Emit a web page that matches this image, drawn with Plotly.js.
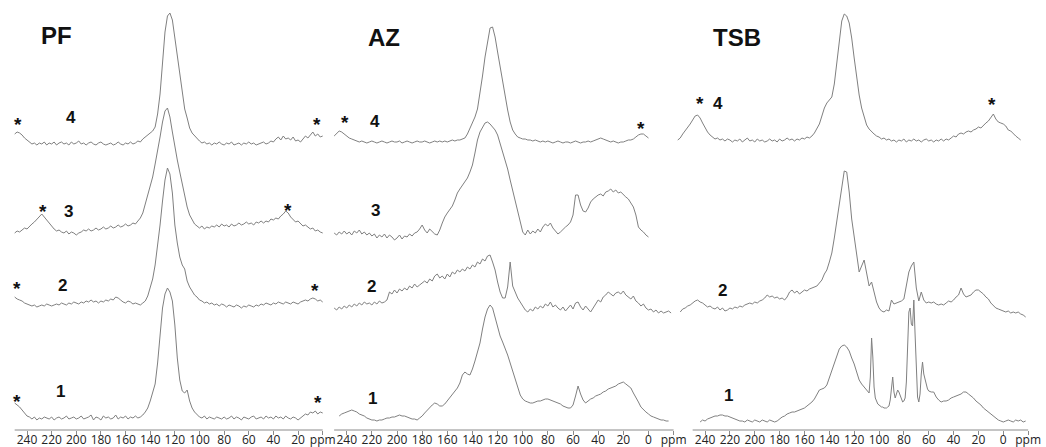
<!DOCTYPE html>
<html><head><meta charset="utf-8">
<script src="https://cdn.plot.ly/plotly-3.0.1.min.js"></script>
<style>html,body{margin:0;padding:0;background:#fff;}#chart{width:1046px;height:447px;}</style>
</head><body><div id="chart"></div>
<script>
// ---------------- DATA (intensity, ppm grids) ----------------
const panelTitles = ['PF', 'AZ', 'TSB'];

// PF spectra: 250 -> 0 ppm, step 2
const pf4 = [10,12,11,9,6,4,2,0,1,-1, 1,0,2,-1,1,0,2,-1,1,2, 0,1,-1,2,0,1,3,0,1,-1, 1,2,0,-1,1,2,0,-1,0,1,
  -1,0,2,0,-1,1,0,2,0,1, 3,2,5,7,9,11,13,17,30,50, 85,112,128,131,124,106,88,66,48,35, 26,16,11,8,5,3,1,2,0,1,
  -1,1,0,2,0,-1,1,0,2,-1, 0,1,-1,1,0,2,0,1,-1,0, 1,2,0,1,3,2,5,7,4,8, 5,6,4,7,3,4,2,5,8,6, 9,12,8,10,7,8];
const pf3 = [-1,1,0,2,4,3,6,8,10,13, 15,18,15,12,8,5,3,1,2,0, -1,1,-2,0,-1,-3,-1,0,2,1, 3,1,2,4,2,3,5,3,4,6,
  4,5,7,5,6,8,6,7,9,8, 11,14,19,28,37,45,55,68,80,95, 110,121,124,115,100,84,72,60,48,36, 25,17,12,8,6,4,6,3,5,4,
  6,5,7,5,8,6,7,5,8,6, 7,9,7,8,10,8,9,7,10,9, 11,9,11,10,13,12,14,13,16,18, 21,19,15,12,10,11,8,6,7,5, 3,4,1,2,0,-1];
const pf2 = [8,6,5,4,2,1,0,-1,0,-2, -1,0,-1,1,0,-1,0,1,0,2, 1,0,2,1,3,2,1,3,2,4, 3,5,3,4,2,4,3,5,4,6,
  5,8,7,5,3,2,4,3,1,2, 1,0,2,4,9,18,26,40,58,80, 104,125,137,131,112,80,62,48,40,36, 24,18,14,10,8,5,4,2,3,1,
  2,0,1,-1,1,0,-2,0,-1,-2, 0,-1,-3,-1,-2,0,-1,-2,0,-1, 1,0,2,1,0,2,1,3,2,1, 3,2,1,3,2,1,3,4,5,4, 6,7,6,4,5,3];
const pf1 = [15,13,11,8,5,2,1,-1,1,-2, 0,-1,1,0,-1,1,-2,0,1,-1, 0,2,-1,0,1,-1,0,2,-1,0, 1,3,-2,1,0,-2,2,0,1,-1,
  0,3,-1,1,0,2,-1,1,0,2, 0,1,3,6,10,17,25,34,55,85, 110,124,130,126,117,93,60,38,27,25, 28,17,10,6,3,1,0,2,-1,1,
  0,-1,1,0,-1,1,-1,0,2,-1, 1,0,-2,1,0,-1,1,2,-1,0, 1,-1,2,0,1,-1,2,0,1,-1, 2,0,-1,1,0,-2,0,2,4,3, 6,5,7,4,6,5];

// AZ spectra
const az4 = [6,9,11,10,8,6,4,3,2,1, 0,1,0,-1,0,1,0,-1,0,1, 0,-1,0,1,0,0,1,-1,0,1, 0,-1,0,1,0,0,1,0,-1,0,
  1,0,1,0,1,0,1,2,1,2, 2,3,4,8,14,19,25,33,48,66, 85,102,114,115,105,90,75,60,45,32, 20,12,8,5,4,3,3,2,2,1,
  2,1,0,1,0,1,0,-1,0,1, 0,-1,0,0,-1,0,1,0,-1,0, 0,1,0,1,2,3,4,3,2,1, 0,1,0,-1,0,0,1,2,2,3, 5,7,8,8,6,4]; // 250 -> 0
const az3 = [2,0,3,1,4,1,3,0,4,2, 5,1,3,0,2,-1,1,-3,0,-2, 1,-3,0,-2,-5,-3,0,-4,-1,-2, 1,-1,2,3,6,10,5,2,6,3,
  1,0,5,12,18,22,25,29,35,42, 46,50,53,57,63,70,82,95,103,108, 112,113,111,108,105,100,92,83,74,66, 55,45,33,24,14,3,0,5,1,4,
  2,6,3,8,11,9,12,7,4,1, 3,6,8,10,13,20,40,40,30,24, 23,27,33,36,38,40,41,39,43,44, 46,43,45,42,43,40,38,36,32,28, 20,8,5,3,0,-2]; // 250 -> 0
const az2 = [4,2,5,3,6,4,7,5,8,6, 9,7,10,8,9,7,10,8,11,9, 10,12,20,18,22,19,23,21,24,22, 26,24,28,25,27,29,31,29,33,31,
  36,38,34,36,33,38,35,40,38,42, 40,43,41,45,43,47,45,50,48,53, 51,56,57,50,42,30,20,14,14,25, 50,26,20,14,10,6,2,0,3,1,
  5,3,6,4,8,6,10,5,7,4, 2,5,1,4,7,3,9,10,5,2, 6,3,0,4,8,12,10,15,17,20, 18,16,19,20,18,21,17,15,13,16, 11,9,6,8,4,2,3,0,2,-1,
  1,-1,0,1,-1]; // 250 -> -18
const az1 = [5,7,8,9,10,11,10,9,7,6, 5,3,2,1,1,0,1,1,2,3, 3,4,4,5,6,5,5,4,3,2, 2,1,3,5,8,11,14,16,18,17,
  15,15,17,20,24,27,30,33,38,46, 49,47,46,52,60,68,78,92,104,112, 116,113,104,94,85,79,73,66,58,50, 41,32,26,22,20,19,18,18,19,20,
  20,21,22,22,21,20,19,18,17,15, 14,13,13,16,25,35,27,21,18,20, 22,23,25,26,27,29,30,32,33,34, 35,37,38,39,37,35,33,28,24,19,
  14,11,9,7,5,4,3,2,1,1, 0,0]; // 246 -> -16

// TSB spectra
const tsb4 = [2,4,8,11,15,18,22,26,27,24, 19,14,10,7,5,3,4,2,3,1, 3,2,0,2,1,3,0,2,4,1, 2,0,3,1,2,0,1,3,1,2,
  0,3,1,2,4,2,3,1,3,2, 4,3,5,4,6,9,13,18,26,34, 39,42,45,58,80,104,121,128,126,119, 104,84,64,47,34,24,17,13,10,8,
  6,5,3,4,2,3,1,2,0,2, 1,3,0,2,1,3,1,2,0,2, 3,1,2,0,2,1,3,1,3,2, 4,6,5,8,9,8,10,11,10,12, 13,15,14,17,19,21,24,28,23,20,
  19,18,16,12,11,8,6,4,2]; // 262 -> -14
const tsb2 = [2,5,6,8,9,11,13,14,12,11, 9,7,8,6,5,7,4,6,3,4, 6,5,7,6,8,7,9,10,11,10, 12,11,13,14,16,19,17,18,16,17,
  15,16,14,17,22,24,21,23,20,22, 24,23,25,26,27,28,31,34,40,44, 52,61,76,92,108,128,143,142,122,95, 78,60,42,48,54,41,28,32,22,12,
  6,3,2,4,3,14,10,11,12,13, 15,28,42,48,52,26,13,22,14,11, 12,11,12,10,9,10,9,11,13,12, 14,17,19,26,20,17,18,19,22,24,
  24,22,20,17,15,11,8,6,5,4, 3,2,3,1,2,1,2,0,-1,-3]; // 260 -> -18
const tsb1Ppm = [244,242,240,238,236,234,232,230,228,226,224,222,220,218,216,214,212,210,208,206,204,202,200,198,196,194,192,190,188,186,
  184,182,180,178,176,174,172,170,168,166,164,162,160,158,156,154,152,150,148,146,144,142,140,138,136,134,132,130,128,126,
  124,122,120,118,116,114,112,
  111,110,109,108,107,106,105,104,103,102,101,100,99,98,97,96,95,94,93,92,91,90,89,88,87,86,85,84,83,82,
  81,80,79,78,77,76,75,74,73,72,71,70,69,68,67,66,65,64,63,62,61,60,
  58,56,54,52,50,48,46,44,42,40,38,36,34,32,30,28,26,24,22,20,18,16,14,12,10,8,6,4,2,0,-2,-4,-6,-8,-10,-12,-14,-16,-18];
const tsb1 = [0,2,1,3,4,5,6,6,7,7, 6,6,5,4,3,2,1,1,0,2, 1,0,2,1,0,2,1,0,2,1, 0,1,3,5,6,8,9,10,10,11,
  12,13,14,16,18,20,23,28,32,33, 34,37,44,50,58,66,73,76,77,75, 71,64,58,50,42,38,35,
  33,31,30,29,45,84,65,35,24,20, 18,17,16,15,15,14,14,14,15,16, 22,36,45,30,24,28,32,30,26,22,
  20,21,24,40,75,110,114,98,96,122, 88,45,25,20,28,48,60,48,42,36, 33,31,
  30,30,25,22,20,21,21,22,24,25, 26,27,28,30,30,28,26,24,21,19, 17,14,12,10,8,6,4,2,1,0, 1,2,1,0,2,1,2,0,1];

const tickValsPF = [240,220,200,180,160,140,120,100,80,60,40,20,0];
const tickTextPF = ['240','220','200','180','160','140','120','100','80','60','40','20','ppm'];
const tickValsWide = [240,220,200,180,160,140,120,100,80,60,40,20,0,-20];
const tickTextWide = ['240','220','200','180','160','140','120','100','80','60','40','20','0','ppm'];

// ---------------- STYLE / LAYOUT ----------------
const W = 1046, H = 447, PH = 430;
const lineColor = '#808080';
function trace(yArr, start, offset, xa, ya, xArr) {
  const t = {type:'scatter', mode:'lines', xaxis:xa, yaxis:ya, hoverinfo:'skip',
    y: yArr.map(v => v + offset), line:{color:lineColor, width:1}, showlegend:false};
  if (xArr) t.x = xArr; else { t.x0 = start; t.dx = -2; }
  return t;
}
const data = [
  trace(pf4, 250, 286, 'x', 'y'), trace(pf3, 250, 198, 'x', 'y'), trace(pf2, 250, 125, 'x', 'y'), trace(pf1, 250, 12, 'x', 'y'),
  trace(az4, 250, 288, 'x2', 'y2'), trace(az3, 250, 195, 'x2', 'y2'), trace(az2, 250, 118, 'x2', 'y2'), trace(az1, 246, 9, 'x2', 'y2'),
  trace(tsb4, 262, 288, 'x3', 'y3'), trace(tsb2, 260, 116, 'x3', 'y3'), trace(tsb1, null, 8, 'x3', 'y3', tsb1Ppm)
];

function xax(domPx, range, vals, texts) {
  return {domain:[domPx[0]/W, domPx[1]/W], range:range, showline:false, showgrid:false, zeroline:false,
    tickmode:'array', tickvals:vals, ticktext:texts, ticks:'outside', ticklen:4, tickcolor:'#8a8a8a', tickwidth:1,
    ticklabelstandoff:-5,
    tickfont:{family:'Open Sans', size:12, color:'#222'}, fixedrange:true, automargin:false};
}
function yax(anchor) {
  return {domain:[0,1], range:[0, PH], visible:false, fixedrange:true, anchor:anchor};
}
const px = x => x / W, py = y => (PH - y) / PH;
const ann = [];
const titlePos = [[56,36],[384,37],[737,37]];
panelTitles.forEach((t,i) => ann.push({text:'<b>'+t+'</b>', x:px(titlePos[i][0]), y:py(titlePos[i][1]), xref:'paper', yref:'paper',
  showarrow:false, xanchor:'center', yanchor:'middle', font:{family:'Liberation Sans', size:24, color:'#111'}}));
const nums = [['4',71,118],['3',68,211],['2',62,285],['1',60,391],
  ['4',375,121],['3',375,210],['2',371,286],['1',372,398],
  ['4',718,103],['2',722,290],['1',728,395]];
nums.forEach(n => ann.push({text:'<b>'+n[0]+'</b>', x:px(n[1]), y:py(n[2]), xref:'paper', yref:'paper', showarrow:false,
  xanchor:'center', yanchor:'middle', font:{family:'Liberation Sans', size:17, color:'#111'}}));
const stars = [[18,121],[317,121],[43,208],[288,206],[17,284],[315,286],[17,397],[318,398],[345,118],[641,124],[700,99],[992,100]];
stars.forEach(s => ann.push({text:'<b>*</b>', x:px(s[0]), y:py(s[1]+4), xref:'paper', yref:'paper', showarrow:false,
  xanchor:'center', yanchor:'middle', font:{family:'Liberation Sans', size:19, color:'#111'}}));

const axisShapes = [['x',250,0],['x2',250,-20],['x3',250,-20]].map(a => ({type:'line', xref:a[0], yref:'paper',
  x0:a[1], x1:a[2], y0:0, y1:0, line:{color:'#8a8a8a', width:1}}));

const layout = {
  width:W, height:H, margin:{l:0, r:0, t:0, b:17}, paper_bgcolor:'#fff', plot_bgcolor:'rgba(0,0,0,0)', showlegend:false,
  xaxis: xax([10,324], [253.8,-1.06], tickValsPF, tickTextPF),
  xaxis2: xax([330,675.5], [253.3,-21.5], tickValsWide, tickTextWide),
  xaxis3: xax([675.5,1032], [263.8,-23.1], tickValsWide, tickTextWide),
  yaxis: yax('x'), yaxis2: yax('x2'), yaxis3: yax('x3'),
  annotations: ann, shapes: axisShapes
};
Plotly.newPlot('chart', data, layout, {staticPlot:true, displayModeBar:false});
</script></body></html>
